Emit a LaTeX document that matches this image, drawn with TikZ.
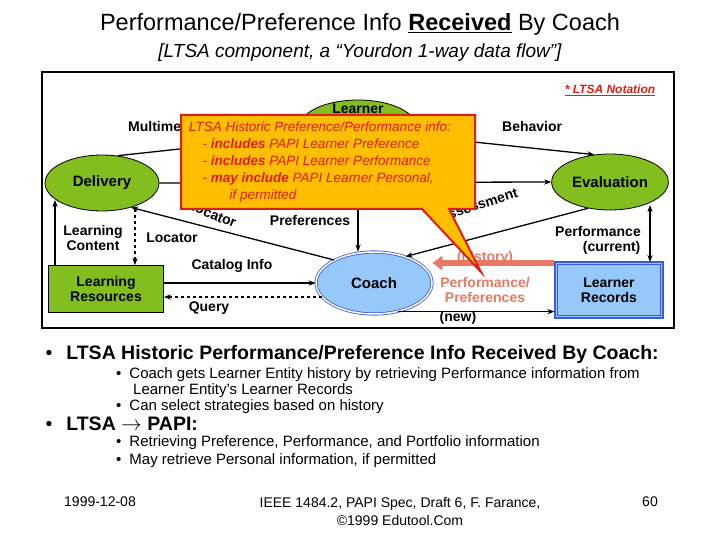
\documentclass[tikz,border=0pt]{standalone}
\usepackage{fontspec}
\setmainfont{Liberation Sans}
\usetikzlibrary{arrows.meta,shapes.geometric}
\definecolor{grn}{RGB}{130,190,30}
\definecolor{blu}{RGB}{150,200,250}
\definecolor{bluB}{RGB}{60,90,220}
\definecolor{sal}{RGB}{230,120,100}
\definecolor{org}{RGB}{255,190,0}
\definecolor{rd}{RGB}{220,30,20}
\tikzset{
 ell/.style={ellipse,draw,line width=0.8pt,fill=grn,minimum width=114pt,minimum height=56pt,font=\fontsize{15}{16}\selectfont\bfseries},
 dbl/.style={double,double distance=1.5pt,draw=bluB,fill=blu},
 arr/.style={-{Stealth[length=7pt]},line width=1.3pt},
 lbl/.style={font=\fontsize{14}{15}\selectfont\bfseries,align=center,inner sep=1pt},
 tx/.style={anchor=west,font=\fontsize{15}{16}\selectfont},
}
\begin{document}
\begin{tikzpicture}[x=1pt,y=-1pt]
\useasboundingbox (0,0) rectangle (720,540);
\node (t1) at (360,24) {\fontsize{23.5}{26}\selectfont Performance/Preference Info \underline{\textbf{Received}} By Coach};
\node (t2) at (360,53) {\fontsize{19}{21}\selectfont\itshape [LTSA component, a “Yourdon 1-way data flow”]};
\draw[line width=2pt] (42,72) rectangle (674,328);
\node (nt) at (610,90) {\fontsize{12}{13}\selectfont\bfseries\itshape\color{rd}\underline{* LTSA Notation}};
% nodes
\node[ell,minimum width=115pt,minimum height=52pt] (lea) at (358,126) {};
\node[lbl] at (358,109) {Learner};
\node[ell] (del) at (102,183) {Delivery};
\node[ell] (eva) at (610,182) {Evaluation};
\node[ell,dbl,minimum width=116pt,minimum height=62pt] (coa) at (374,283) {Coach};
\node[draw,line width=0.8pt,fill=grn,minimum width=115pt,minimum height=47pt,lbl] (lr) at (106,289) {Learning\\Resources};
\node[draw=bluB,line width=1.2pt,fill=blu,minimum width=108pt,minimum height=56pt,lbl] (rec) at (609,290) {Learner\\Records};
\draw[bluB,line width=1pt] (rec.north west) ++(3,3) rectangle ([shift={(-3,-3)}]rec.south east);
% arrows
\draw[arr] (del.60) -- (lea.190);
\node[lbl,anchor=west] at (127,126) {Multimedia};
\draw[arr] (lea.-10) -- (eva.120);
\node[lbl,anchor=west] at (501,126) {Behavior};
\draw[arr] (del.east) -- (eva.west);
\draw[arr] (coa.150) -- (del.-40);
\node[lbl,rotate=-22] at (212,214) {Locator};
\draw[arr] (lea.south) -- (lea.south|-coa.north);
\node[lbl] at (310,220) {Preferences};
\draw[arr] (eva.-130) -- (coa.40);
\node[lbl,rotate=18] at (478,205) {Assessment};
\draw[{Stealth[length=7pt]}-{Stealth[length=7pt]},line width=1.2pt] (650,205) -- (650,262);
\node[lbl] at (598,240) {Performance\\\hphantom{Perf}(current)};
\draw[arr] (55,265) -- (55,200);
\node[lbl] at (93,238) {Learning\\Content};
\draw[arr,dashed] (135,209) -- (135,265);
\node[lbl] at (172,238) {Locator};
\draw[arr] (lr.east|-0,283) -- (coa.west|-0,283);
\node[lbl] at (232,266) {Catalog Info};
\draw[arr,dashed] (coa.-165) -- (lr.east|-coa.-165);
\node[lbl] at (209,308) {Query};
\draw[arr] (coa.-50) -- (rec.west|-coa.-50);
\node[lbl] at (458,318) {(new)};
\draw[-{Triangle[length=10pt,width=14pt]},line width=6pt,sal] (rec.west|-0,263) -- (coa.east|-0,263);
\node[lbl,text=sal] at (485,258) {(history)};
\node[lbl,text=sal] at (485,290) {Performance/\\Preferences};
% callout
\draw[rd,line width=2pt,fill=org,line join=miter] (181,115) -- (475,115) -- (475,209) -- (449,209) -- (481,272) -- (422,209) -- (181,209) -- cycle;
\node[anchor=north west,align=left,text=rd,font=\fontsize{13.5}{17}\selectfont\itshape,inner sep=0pt] (ct) at (189,122) {LTSA Historic Preference/Performance info:\\
\quad- \textbf{includes} PAPI Learner Preference\\
\quad- \textbf{includes} PAPI Learner Performance\\
\quad- \textbf{may include} PAPI Learner Personal,\\
\qquad\quad if permitted};
% bullets
\node[tx] (b1) at (42,354) {\fontsize{19.5}{22}\selectfont\textbullet\hspace{14pt}\textbf{LTSA Historic Performance/Preference Info Received By Coach:}};
\node[tx,align=left,anchor=north west,inner sep=0pt] (s1) at (116,367) {\textbullet\hspace{8pt}Coach gets Learner Entity history by retrieving Performance information from\\
\hspace{17pt}Learner Entity’s Learner Records\\
\textbullet\hspace{8pt}Can select strategies based on history};
\node[tx] (b2) at (42,424) {\fontsize{19.5}{22}\selectfont\textbullet\hspace{14pt}\textbf{LTSA $\rightarrow$ PAPI:}};
\node[tx,align=left,anchor=north west,inner sep=0pt] (s2) at (116,435) {\textbullet\hspace{8pt}Retrieving Preference, Performance, and Portfolio information\\[2pt]
\textbullet\hspace{8pt}May retrieve Personal information, if permitted};
\node[font=\fontsize{14}{16}\selectfont] (f1) at (100,502) {1999-12-08};
\node[font=\fontsize{14}{18}\selectfont,align=center] (f2) at (400,511) {IEEE 1484.2, PAPI Spec, Draft 6, F. Farance,\\©1999 Edutool.Com};
\node[font=\fontsize{14}{16}\selectfont] (f3) at (650,502) {60};
\end{tikzpicture}
\end{document}
